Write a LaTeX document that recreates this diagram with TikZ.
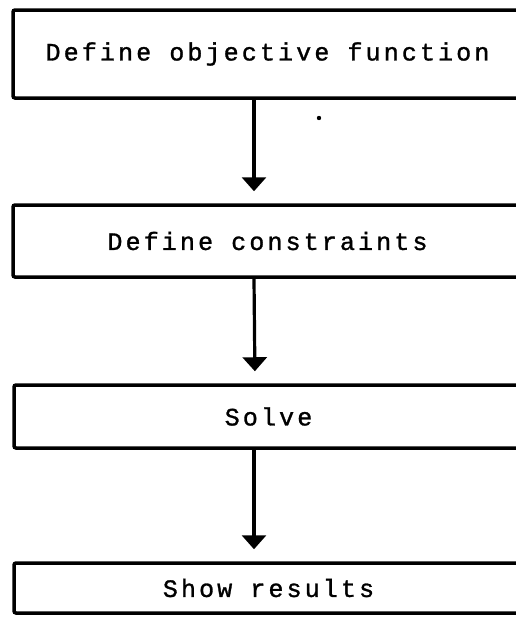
\documentclass[tikz,border=0pt]{standalone}
\usepackage{fontspec}
\newfontfamily\typewriter[LetterSpace=12.5,FakeBold=1.2]{Liberation Mono}
\usetikzlibrary{arrows.meta}
\tikzset{
  stepbox/.style={draw=black, line width=3.5pt, rounded corners=2pt, minimum width=509pt,
    inner sep=0pt, font=\typewriter\fontsize{25pt}{29pt}\selectfont, text=black},
  flow/.style={draw=black, line width=3.2pt, -{Triangle[width=24pt,length=14pt]}, shorten >=12pt}
}
\begin{document}
\begin{tikzpicture}[x=1pt,y=-1pt]
\useasboundingbox (0,0) rectangle (515,621);
\fill[white] (0,0) rectangle (515,621);
\node[stepbox, minimum height=88pt] (b1) at (267.5,54) {Define objective function};
\node[stepbox, minimum height=72pt] (b2) at (267.5,241) {Define constraints};
\node[stepbox, minimum height=63pt] (b3) at (268.5,416.5) {Solve};
\node[stepbox, minimum height=50pt] (b4) at (268.5,588) {Show results};
\draw[flow] ([xshift=-13.5pt]b1.south) -- ([xshift=-13.5pt]b2.north);
\draw[flow] ([xshift=-13.5pt]b2.south) -- ([xshift=-13.5pt]b3.north);
\draw[flow] ([xshift=-14.5pt]b3.south) -- ([xshift=-14.5pt]b4.north);
\fill[black] (319,118) circle (2.2pt);
\end{tikzpicture}
\end{document}
